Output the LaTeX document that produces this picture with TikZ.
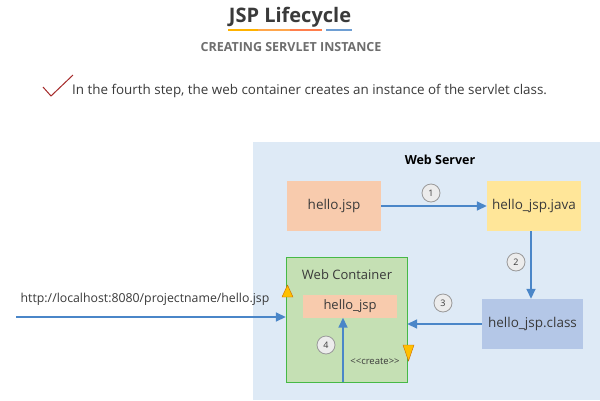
\documentclass[tikz,border=0pt]{standalone}
\usepackage{fontspec}
\setmainfont{Open Sans}
\usepackage{xcolor}
\usetikzlibrary{shapes,arrows,positioning,calc,arrows.meta}

\definecolor{srvblue}{HTML}{DEEAF6}
\definecolor{jspsalmon}{HTML}{F8CBAD}
\definecolor{javayellow}{HTML}{FFE699}
\definecolor{classblue}{HTML}{B4C7E7}
\definecolor{contgreen}{HTML}{C5E0B4}
\definecolor{flowblue}{HTML}{4A86C8}
\definecolor{txtgray}{HTML}{3A3A3A}
\definecolor{subgray}{HTML}{6E6E6E}
\definecolor{checkred}{HTML}{A52A2A}
\definecolor{markgold}{HTML}{FFC000}

\tikzset{
  filebox/.style={minimum width=94pt, minimum height=50pt, inner sep=0pt,
    text=txtgray, font=\fontsize{13.5}{16}\selectfont},
  flow/.style={draw=flowblue, line width=1.6pt, -{Triangle[length=10pt,width=9pt]}},
  stepnum/.style={circle, draw=gray!80, line width=0.8pt, fill=gray!15, minimum size=18pt,
    inner sep=0pt, text=txtgray, font=\fontsize{9}{10}\selectfont},
  marker/.style={fill=markgold, draw=orange!80!black, line width=0.4pt}
}

\begin{document}
\begin{tikzpicture}[x=1pt,y=-1pt]
    \useasboundingbox (0,0) rectangle (600,400);
    \fill[white] (0,0) rectangle (600,400);

    % Heading
    \node[font=\bfseries\fontsize{20}{24}\selectfont, text=txtgray] (title) at (290,17) {JSP Lifecycle};
    \draw[line width=2pt, orange!60!yellow] (228,30) -- (258,30);
    \draw[line width=2pt, orange!70] (258,30) -- (290,30);
    \draw[line width=2pt, red!45!orange!70] (290,30) -- (322,30);
    \draw[line width=2pt, flowblue!80] (326,30) -- (352,30);
    \node[font=\bfseries\fontsize{12.5}{14}\selectfont, text=subgray] (subtitle) at (291,47) {CREATING SERVLET INSTANCE};

    % Step text
    \draw[checkred, line width=1pt] (43,87) -- (51,96) -- (73,75);
    \node[anchor=west, inner sep=0pt, text=txtgray, font=\fontsize{13.4}{16}\selectfont] (steptext) at (72,91)
      {In the fourth step, the web container creates an instance of the servlet class.};

    % Web server
    \fill[srvblue] (253,142) rectangle (600,400);
    \node[font=\bfseries\fontsize{12.5}{15}\selectfont, text=black] (server) at (440,160) {Web Server};

    \node[filebox, fill=jspsalmon] (jsp) at (334,206) {hello.jsp};
    \node[filebox, fill=javayellow] (java) at (534,206) {hello\_jsp.java};
    \node[filebox, fill=classblue, minimum width=101pt] (cls) at (532.5,324) {hello\_jsp.class};

    % Web container
    \node[draw=green!45!gray, fill=contgreen, minimum width=121pt, minimum height=125pt] (cont) at (346.5,319.5) {};
    \node[text=txtgray, font=\fontsize{13}{15}\selectfont] (conttitle) at (347,275) {Web Container};
    \node[fill=jspsalmon, minimum width=94pt, minimum height=23pt, inner sep=0pt,
      text=txtgray, font=\fontsize{13}{15}\selectfont] (inst) at (350,306) {hello\_jsp};
    \node[text=txtgray, font=\fontsize{9.5}{11}\selectfont] (create) at (375,361) {<{}<create>{}>};
    \fill[marker] (282,297) -- (293,297) -- (287.5,285) -- cycle;
    \fill[marker] (403,345) -- (414,345) -- (408.5,361) -- cycle;

    % Flow
    \draw[flow] (jsp.east) -- (java.west);
    \draw[flow] (java.south -| 531,0) -- (cls.north -| 531,0);
    \draw[flow] (cls.west) -- (cls.west -| cont.east);
    \coordinate (c4) at (343,382);
    \draw[flow] (c4) -- (c4 |- inst.south);
    \coordinate (urlstart) at (16,317);
    \draw[flow] (urlstart) -- (urlstart -| cont.west);
    \node[text=txtgray, font=\fontsize{12.3}{14}\selectfont] (url) at (145,299) {http://localhost:8080/projectname/hello.jsp};

    \node[stepnum] (n1) at (431,193) {1};
    \node[stepnum] (n2) at (516,262) {2};
    \node[stepnum] (n3) at (443,303) {3};
    \node[stepnum] (n4) at (326,345) {4};
\end{tikzpicture}
\end{document}
